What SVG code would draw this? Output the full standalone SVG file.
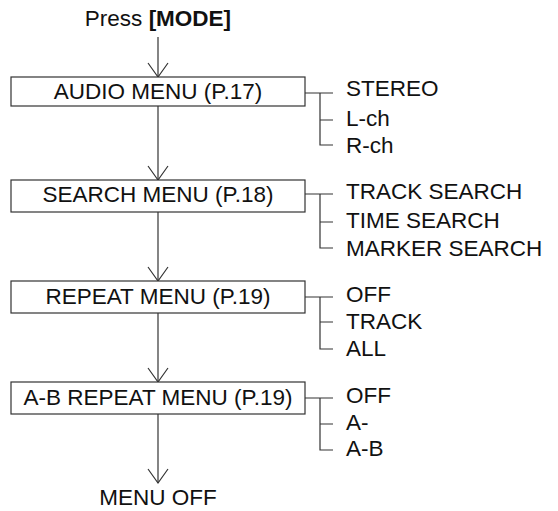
<svg xmlns="http://www.w3.org/2000/svg" width="558" height="511" viewBox="0 0 558 511">
<style>
text{font-family:"Liberation Sans",Arial,Helvetica,sans-serif;font-size:22.5px;fill:#111}
.c{text-anchor:middle}
.box{fill:#fff;stroke:#333;stroke-width:1.2}
.ln{fill:none;stroke:#333;stroke-width:1.2}
</style>
<defs>
<path id="ah" d="M-10,-14 L0,0 L10,-14" fill="none" stroke="#333" stroke-width="1.2"/>
</defs>
<g id="start"><text class="c" x="158" y="26">Press <tspan font-weight="bold">[MODE]</tspan></text></g>
<g id="connectors" class="ln">
<line x1="158" y1="37" x2="158" y2="77"/>
<line x1="158" y1="106" x2="158" y2="180"/>
<line x1="158" y1="212" x2="158" y2="281"/>
<line x1="158" y1="313" x2="158" y2="382"/>
<line x1="158" y1="414" x2="158" y2="483"/>
<use href="#ah" x="158" y="77"/>
<use href="#ah" x="158" y="180"/>
<use href="#ah" x="158" y="281"/>
<use href="#ah" x="158" y="382"/>
<use href="#ah" x="158" y="483"/>
<path d="M305,93 H333 M320,93 V145 H333 M320,120 H333"/>
<path d="M305,194 H333 M320,194 V248 H333 M320,222 H333"/>
<path d="M305,297 H333 M320,297 V349 H333 M320,322 H333"/>
<path d="M305,398 H333 M320,398 V450 H333 M320,424 H333"/>
</g>
<g id="audio"><rect class="box" x="11" y="77" width="294" height="29"/><text class="c" x="158" y="99">AUDIO MENU (P.17)</text></g>
<g id="audio-opts"><text x="346" y="96">STEREO</text><text x="346" y="126">L-ch</text><text x="346" y="153">R-ch</text></g>
<g id="search"><rect class="box" x="11" y="180" width="294" height="32"/><text class="c" x="158" y="202">SEARCH MENU (P.18)</text></g>
<g id="search-opts"><text x="346" y="199">TRACK SEARCH</text><text x="346" y="228">TIME SEARCH</text><text x="346" y="256">MARKER SEARCH</text></g>
<g id="repeat"><rect class="box" x="11" y="281" width="294" height="32"/><text class="c" x="158" y="304">REPEAT MENU (P.19)</text></g>
<g id="repeat-opts"><text x="346" y="302">OFF</text><text x="346" y="329">TRACK</text><text x="346" y="356">ALL</text></g>
<g id="abrepeat"><rect class="box" x="11" y="382" width="294" height="32"/><text class="c" x="158" y="405">A-B REPEAT MENU (P.19)</text></g>
<g id="abrepeat-opts"><text x="346" y="403">OFF</text><text x="346" y="430">A-</text><text x="346" y="456">A-B</text></g>
<g id="end"><text class="c" x="158" y="505">MENU OFF</text></g>
</svg>
